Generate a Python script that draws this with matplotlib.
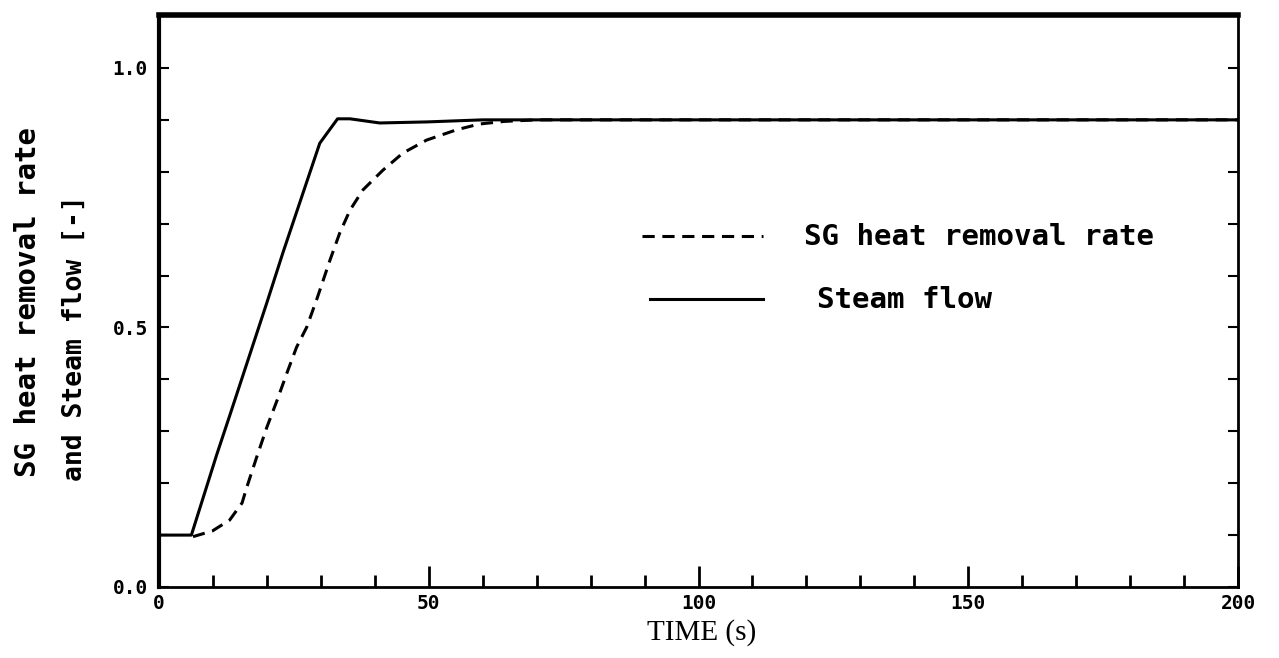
import numpy as np
import matplotlib
matplotlib.use("Agg")
import matplotlib.pyplot as plt
from matplotlib.ticker import MultipleLocator, FixedLocator

# ---- data ----
steam_t = [0, 6, 10.7, 13.1, 20.0, 23, 29.8, 33.1, 35.4, 40.9, 49.6, 60, 200]
steam_v = [0.1, 0.1, 0.255, 0.33, 0.548, 0.645, 0.855, 0.902, 0.902, 0.894, 0.896, 0.9, 0.9]

sg_t = [6.3, 9.9, 13.1, 15.4, 16.3, 18.1, 20.0, 21.9, 23.7, 25.5, 27.4, 29.3,
        31.7, 33.5, 35.4, 37.8, 41.5, 45.2, 49.6, 55.2, 59.4, 64, 70, 200]
sg_v = [0.097, 0.108, 0.129, 0.162, 0.193, 0.25, 0.308, 0.36, 0.412, 0.462, 0.501, 0.556,
        0.63, 0.682, 0.726, 0.765, 0.803, 0.836, 0.861, 0.881, 0.892, 0.897, 0.9, 0.9]

x_ticks = [0, 50, 100, 150, 200]
x_ticklabels = ["0", "50", "100", "150", "200"]
y_ticks = [0.0, 0.5, 1.0]
y_ticklabels = ["0.0", "0.5", "1.0"]

legend_labels = ["SG heat removal rate", "Steam flow"]
ylabel_lines = ["SG heat removal rate", "and Steam flow [-]"]
xlabel = "TIME (s)"

mono = "DejaVu Sans Mono"

fig = plt.figure(figsize=(12.79, 6.58), dpi=100)
ax = fig.add_axes([159 / 1279, 1 - 587 / 658, (1238 - 159) / 1279, (587 - 15) / 658])

ax.plot(steam_t, steam_v, color="black", lw=2.2, solid_joinstyle="round")
ax.plot(sg_t, sg_v, color="black", lw=2.2, linestyle=(0, (4, 2.5)))

ax.set_xlim(0, 200)
ax.set_ylim(0, 1.102)

ax.xaxis.set_major_locator(FixedLocator(x_ticks))
ax.set_xticklabels(x_ticklabels)
ax.xaxis.set_minor_locator(MultipleLocator(10))
ax.yaxis.set_major_locator(FixedLocator(y_ticks))
ax.set_yticklabels(y_ticklabels)
ax.yaxis.set_minor_locator(MultipleLocator(0.1))

ax.tick_params(axis="x", which="major", direction="in", length=15, width=2,
               top=False, bottom=True, pad=5)
ax.tick_params(axis="x", which="minor", direction="in", length=9, width=2,
               top=False, bottom=True)
ax.tick_params(axis="y", which="both", direction="in", length=7, width=1.5,
               left=True, right=True, pad=8)

for lab in ax.get_xticklabels() + ax.get_yticklabels():
    lab.set_fontfamily(mono)
    lab.set_fontweight("bold")
    lab.set_fontsize(14)

ax.spines["top"].set_linewidth(4)
ax.spines["left"].set_linewidth(3)
ax.spines["bottom"].set_linewidth(2)
ax.spines["right"].set_linewidth(2)

# legend drawn manually to match the layout
ax.plot([89.5, 112], [0.676, 0.676], color="black", lw=2.2, linestyle=(0, (4, 2.5)))
ax.plot([91, 112], [0.555, 0.555], color="black", lw=2.2)
ax.text(119.5, 0.674, legend_labels[0], fontfamily=mono, fontweight="bold",
        fontsize=21, va="center", ha="left")
ax.text(122, 0.553, legend_labels[1], fontfamily=mono, fontweight="bold",
        fontsize=21, va="center", ha="left")

fig.text(28 / 1279, 1 - 302 / 658, ylabel_lines[0], rotation=90, fontfamily=mono,
         fontweight="bold", fontsize=21, va="center", ha="center")
fig.text(75 / 1279, 1 - 338 / 658, ylabel_lines[1], rotation=90, fontfamily=mono,
         fontweight="bold", fontsize=19, va="center", ha="center")

fig.text(702 / 1279, 1 - 633 / 658, xlabel, fontfamily="Liberation Serif",
         fontsize=21, va="center", ha="center")

fig.savefig("out.png", dpi=100)
